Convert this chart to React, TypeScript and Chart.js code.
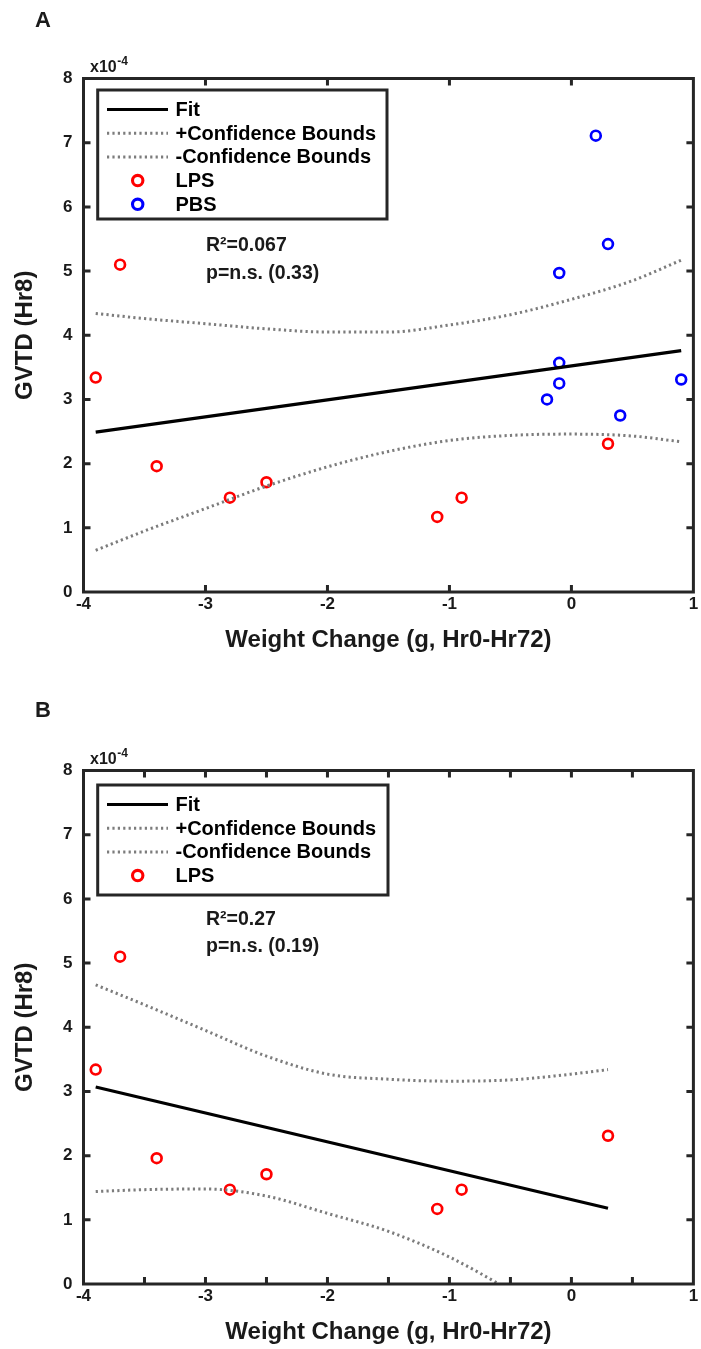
import React, { useEffect, useRef } from 'react';
import { Chart, registerables } from 'chart.js';

Chart.register(...registerables);

// ---------- data (GVTD in units of 1e-4) ----------
const X_TICK_LABELS = ['-4', '-3', '-2', '-1', '0', '1'];
const Y_TICK_LABELS = ['0', '1', '2', '3', '4', '5', '6', '7', '8'];

const LPS_X = [-3.7, -3.9, -3.4, -2.8, -2.5, -1.1, -0.9, 0.3];
const LPS_Y = [5.1, 3.34, 1.96, 1.47, 1.71, 1.17, 1.47, 2.31];

const PBS_X = [0.2, 0.3, -0.1, -0.1, -0.1, -0.2, 0.4, 0.9];
const PBS_Y = [7.11, 5.42, 4.97, 3.57, 3.25, 3.0, 2.75, 3.31];

const FIT_A_X = [-3.9, 0.9];
const FIT_A_Y = [2.49, 3.76];
const BOUND_A_X = [-3.9, -3.5, -3.0, -2.5, -2.0, -1.5, -1.0, -0.5, 0.0, 0.5, 0.9];
const UPPER_A = [4.34, 4.26, 4.18, 4.1, 4.05, 4.05, 4.16, 4.32, 4.56, 4.85, 5.17];
const LOWER_A = [0.65, 0.95, 1.3, 1.65, 1.95, 2.19, 2.36, 2.44, 2.46, 2.43, 2.34];

const FIT_B_X = [-3.9, 0.3];
const FIT_B_Y = [3.07, 1.18];
const BOUND_B_X = [-3.9, -3.5, -3.0, -2.5, -2.0, -1.5, -1.0, -0.5, 0.0, 0.3];
const UPPER_B = [4.66, 4.35, 3.95, 3.55, 3.27, 3.19, 3.16, 3.18, 3.27, 3.34];
const LOWER_B = [1.44, 1.47, 1.48, 1.37, 1.1, 0.82, 0.42, -0.1, -0.64, -0.98];

const ANNOT_A = ['R\u00B2=0.067', 'p=n.s. (0.33)'];
const ANNOT_B = ['R\u00B2=0.27', 'p=n.s. (0.19)'];

const X_TITLE = 'Weight Change (g, Hr0-Hr72)';
const Y_TITLE = 'GVTD (Hr8)';
const EXPONENT = ['x10', '-4'];

// ---------- styling ----------
const FONT = '"Liberation Sans", Arial, Helvetica, sans-serif';
const FRAME = '#262626';
const TEXT = '#1a1a1a';
const RED = '#ff0000';
const BLUE = '#0000ff';
const GREY = '#7c7c7c';

const zip = (xs: number[], ys: number[]) => xs.map((x, i) => ({ x, y: ys[i] }));

function lineDs(label: string, xs: number[], ys: number[], dotted: boolean) {
  return {
    label,
    data: zip(xs, ys),
    showLine: true,
    borderColor: dotted ? GREY : '#000000',
    backgroundColor: 'rgba(0,0,0,0)',
    borderWidth: dotted ? 3 : 3.2,
    borderDash: dotted ? [2.2, 3.2] : [],
    pointRadius: 0,
    pointHoverRadius: 0,
    cubicInterpolationMode: 'monotone' as const,
  };
}

function pointDs(label: string, xs: number[], ys: number[], color: string) {
  return {
    label,
    data: zip(xs, ys),
    showLine: false,
    borderColor: color,
    backgroundColor: 'rgba(0,0,0,0)',
    pointBorderColor: color,
    pointBackgroundColor: 'rgba(0,0,0,0)',
    pointRadius: 4.9,
    pointBorderWidth: 2.7,
    pointHoverRadius: 4.9,
  };
}

const framePlugin = {
  id: 'frame',
  afterDraw(chart: any, _args: any, opts: any) {
    const { ctx, chartArea } = chart;
    const { left, right, top, bottom } = chartArea;
    const xs = chart.scales.x;
    const ys = chart.scales.y;
    ctx.save();
    ctx.strokeStyle = FRAME;
    ctx.lineWidth = 3;
    ctx.lineJoin = 'miter';
    ctx.strokeRect(left, top, right - left, bottom - top);
    const L = 7;
    ctx.beginPath();
    xs.ticks.forEach((t: any) => {
      const px = xs.getPixelForValue(t.value);
      if (px <= left + 2 || px >= right - 2) return;
      ctx.moveTo(px, bottom);
      ctx.lineTo(px, bottom - L);
      ctx.moveTo(px, top);
      ctx.lineTo(px, top + L);
    });
    ys.ticks.forEach((t: any) => {
      const py = ys.getPixelForValue(t.value);
      if (py <= top + 2 || py >= bottom - 2) return;
      ctx.moveTo(left, py);
      ctx.lineTo(left + L, py);
      ctx.moveTo(right, py);
      ctx.lineTo(right - L, py);
    });
    ctx.stroke();

    // exponent label
    ctx.fillStyle = TEXT;
    ctx.textBaseline = 'alphabetic';
    ctx.textAlign = 'left';
    ctx.font = `bold 16px ${FONT}`;
    ctx.fillText(EXPONENT[0], 90, 72);
    const w = ctx.measureText(EXPONENT[0]).width;
    ctx.font = `bold 12px ${FONT}`;
    ctx.fillText(EXPONENT[1], 90 + w + 0.5, 65);

    // panel letter
    ctx.font = `bold 22px ${FONT}`;
    ctx.fillText(opts.letter, 35, opts.letterY);

    // annotation
    ctx.font = `bold 19.5px ${FONT}`;
    opts.annot.forEach((s: string, i: number) => {
      ctx.fillText(s, 206, opts.annotY[i]);
    });
    ctx.restore();
  },
};

const boxLegendPlugin = {
  id: 'boxLegend',
  afterDatasetsDraw(chart: any, _args: any, opts: any) {
    const { ctx } = chart;
    const { left, right, top, bottom, row0, step } = opts;
    ctx.save();
    ctx.fillStyle = '#ffffff';
    ctx.fillRect(left, top, right - left, bottom - top);
    ctx.strokeStyle = FRAME;
    ctx.lineWidth = 3;
    ctx.strokeRect(left, top, right - left, bottom - top);
    chart.data.datasets.forEach((ds: any, i: number) => {
      const y = row0 + i * step;
      if (ds.showLine) {
        ctx.beginPath();
        ctx.setLineDash(ds.borderDash || []);
        ctx.lineWidth = ds.borderWidth;
        ctx.strokeStyle = ds.borderColor;
        ctx.moveTo(107, y);
        ctx.lineTo(168, y);
        ctx.stroke();
        ctx.setLineDash([]);
      } else {
        ctx.beginPath();
        ctx.lineWidth = ds.pointBorderWidth + 0.4;
        ctx.strokeStyle = ds.pointBorderColor;
        ctx.arc(137.7, y, ds.pointRadius + 0.3, 0, Math.PI * 2);
        ctx.stroke();
      }
      ctx.fillStyle = '#000000';
      ctx.font = `bold 20px ${FONT}`;
      ctx.textBaseline = 'middle';
      ctx.textAlign = 'left';
      ctx.fillText(ds.label, 175.5, y + 1);
    });
    ctx.restore();
  },
};

type PanelCfg = {
  top: number;
  height: number;
  datasets: any[];
  xStep: number;
  letter: string;
  letterY: number;
  annot: string[];
  annotY: number[];
  legend: { left: number; right: number; top: number; bottom: number; row0: number; step: number };
};

function buildConfig(cfg: PanelCfg): any {
  const tickFont = { family: FONT, size: 17, weight: 'bold' as const };
  const titleFont = { family: FONT, size: 24, weight: 'bold' as const };
  const xTitleOffset = cfg.height - 640.5;
  return {
    type: 'scatter',
    data: { datasets: cfg.datasets },
    plugins: [boxLegendPlugin, framePlugin],
    options: {
      responsive: false,
      animation: false,
      devicePixelRatio: 1,
      layout: { padding: { left: 0, right: 4, top: 78.5, bottom: 0 } },
      plugins: {
        legend: { display: false },
        tooltip: { enabled: false },
        boxLegend: cfg.legend,
        frame: { letter: cfg.letter, letterY: cfg.letterY, annot: cfg.annot, annotY: cfg.annotY },
      },
      scales: {
        x: {
          type: 'linear',
          position: 'bottom',
          min: -4,
          max: 1,
          afterFit: (s: any) => {
            s.height = cfg.height - 592;
          },
          grid: { display: false, drawTicks: false },
          border: { display: false },
          ticks: {
            stepSize: cfg.xStep,
            autoSkip: false,
            maxRotation: 0,
            padding: 2,
            color: TEXT,
            font: tickFont,
            callback: (v: number) => {
              const idx = Math.round(v + 4);
              return Math.abs(v - Math.round(v)) < 1e-9 ? X_TICK_LABELS[idx] : '';
            },
          },
          title: {
            display: true,
            text: X_TITLE,
            color: TEXT,
            font: titleFont,
            padding: { top: 0, bottom: xTitleOffset - 14.4 },
          },
        },
        y: {
          type: 'linear',
          position: 'left',
          min: 0,
          max: 8,
          afterFit: (s: any) => {
            s.width = 83.5;
          },
          grid: { display: false, drawTicks: false },
          border: { display: false },
          ticks: {
            stepSize: 1,
            padding: 11,
            color: TEXT,
            font: tickFont,
            callback: (v: number) => Y_TICK_LABELS[Math.round(v)],
          },
          title: {
            display: true,
            text: Y_TITLE,
            color: TEXT,
            font: titleFont,
            padding: { top: 10.6, bottom: 0 },
          },
        },
      },
    },
  };
}

function Panel({ cfg }: { cfg: PanelCfg }) {
  const ref = useRef<HTMLCanvasElement | null>(null);
  useEffect(() => {
    const chart = new Chart(ref.current as HTMLCanvasElement, buildConfig(cfg));
    return () => chart.destroy();
  }, []);
  return (
    <div style={{ position: 'absolute', left: 0, top: cfg.top, width: 701, height: cfg.height }}>
      <canvas ref={ref} width={701} height={cfg.height} style={{ display: 'block', width: 701, height: cfg.height }} />
    </div>
  );
}

const PANEL_A: PanelCfg = {
  top: 0,
  height: 692,
  xStep: 1,
  letter: 'A',
  letterY: 27,
  annot: ANNOT_A,
  annotY: [251, 278.5],
  legend: { left: 97.7, right: 387, top: 90, bottom: 219, row0: 109.5, step: 23.7 },
  datasets: [
    lineDs('Fit', FIT_A_X, FIT_A_Y, false),
    lineDs('+Confidence Bounds', BOUND_A_X, UPPER_A, true),
    lineDs('-Confidence Bounds', BOUND_A_X, LOWER_A, true),
    pointDs('LPS', LPS_X, LPS_Y, RED),
    pointDs('PBS', PBS_X, PBS_Y, BLUE),
  ],
};

const PANEL_B: PanelCfg = {
  top: 692,
  height: 657,
  xStep: 0.5,
  letter: 'B',
  letterY: 24.5,
  annot: ANNOT_B,
  annotY: [232.5, 260],
  legend: { left: 97.7, right: 388, top: 93, bottom: 203, row0: 112.5, step: 23.7 },
  datasets: [
    lineDs('Fit', FIT_B_X, FIT_B_Y, false),
    lineDs('+Confidence Bounds', BOUND_B_X, UPPER_B, true),
    lineDs('-Confidence Bounds', BOUND_B_X, LOWER_B, true),
    pointDs('LPS', LPS_X, LPS_Y, RED),
  ],
};

export default function App() {
  return (
    <div style={{ position: 'absolute', left: 0, top: 0, width: 701, height: 1349, background: '#ffffff' }}>
      <Panel cfg={PANEL_A} />
      <Panel cfg={PANEL_B} />
    </div>
  );
}
